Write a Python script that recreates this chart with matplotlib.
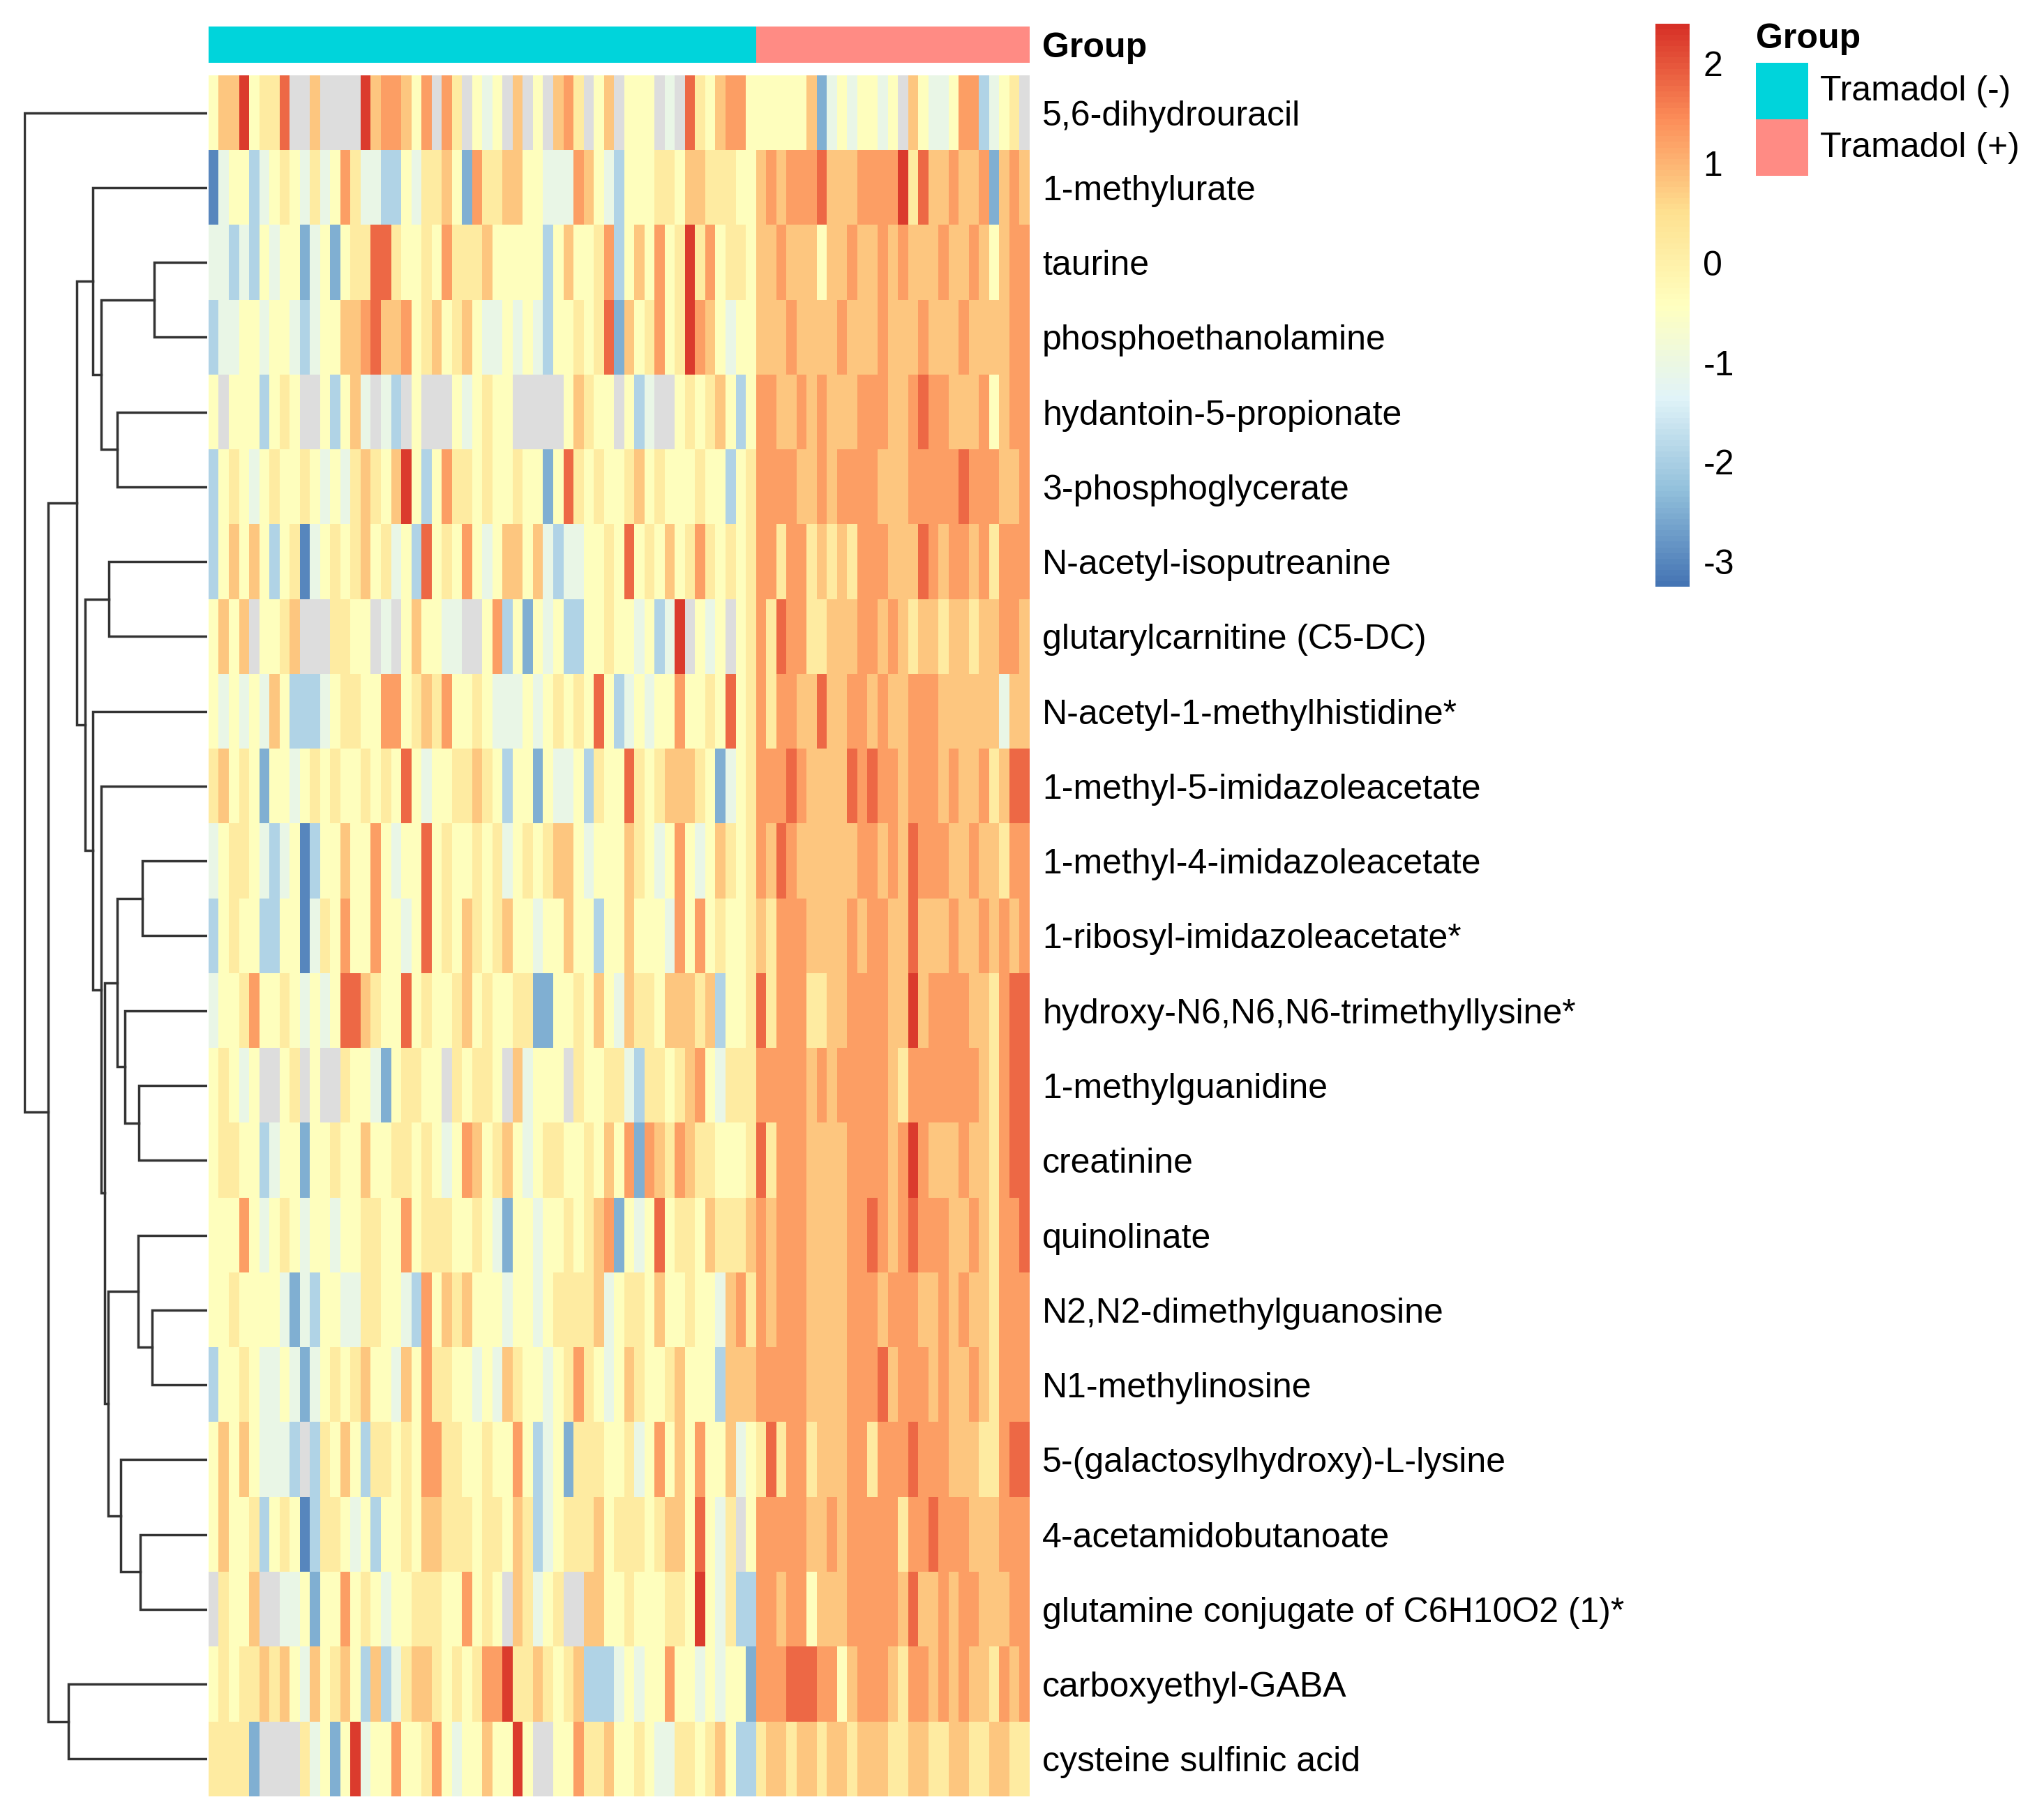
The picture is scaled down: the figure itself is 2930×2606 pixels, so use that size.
import numpy as np
import matplotlib
matplotlib.use("Agg")
import matplotlib.pyplot as plt
from matplotlib.colors import LinearSegmentedColormap, ListedColormap, Normalize
from matplotlib.patches import Rectangle

plt.rcParams['font.family'] = ['Liberation Sans', 'DejaVu Sans']
plt.rcParams['axes.unicode_minus'] = False

# row labels, top to bottom (order of the row dendrogram)
metabolites = [
    "5,6-dihydrouracil", "1-methylurate", "taurine", "phosphoethanolamine",
    "hydantoin-5-propionate", "3-phosphoglycerate", "N-acetyl-isoputreanine",
    "glutarylcarnitine (C5-DC)", "N-acetyl-1-methylhistidine*",
    "1-methyl-5-imidazoleacetate", "1-methyl-4-imidazoleacetate",
    "1-ribosyl-imidazoleacetate*", "hydroxy-N6,N6,N6-trimethyllysine*",
    "1-methylguanidine", "creatinine", "quinolinate", "N2,N2-dimethylguanosine",
    "N1-methylinosine", "5-(galactosylhydroxy)-L-lysine", "4-acetamidobutanoate",
    "glutamine conjugate of C6H10O2 (1)*", "carboxyethyl-GABA",
    "cysteine sulfinic acid",
]

# samples per group (columns)
n_minus = 54
n_plus = 27
group_names = ["Tramadol (-)", "Tramadol (+)"]
group_colors = ["#00D4DB", "#FF8B84"]

# z-score, one code per cell ('n' = missing, grey)
level_of = {'0': -3.0, '1': -2.5, '2': -1.9, '3': -1.1, '4': -0.4,
            '5': 0.15, '6': 0.8, '7': 1.25, '8': 1.8, '9': 2.25, 'n': np.nan}

cell_codes = [
    "46694558nn 6nnnn96776 47n75n434n 6n4n675n46 n444n3n854 6774  4444461343 4434n64334 772345n",
    "0344234543 5347533224 3556417556 6443337643 2444554665 5544  6767778666 7777958667 6671676",
    "3323243441 3414558854 4547555644 4442464457 2464745957 4554  6676664667 6676766676 6764677",
    "2334434432 3446678667 4564564334 3432445458 1645745976 4344  6667666676 6676667666 7666677",
    "4n4442454n n42463n32n 4nnn434544 nnnnn46544 n423nn4545 6424  7766767666 7776678776 6674677",
    "2454345445 4343565469 4247554544 5441485454 4564544454 4245  7777667677 7766677777 8777667",
    "2464642450 3454564534 2845474346 6463233445 4845464575 4545  7757756565 7776668767 7675777",
    "4646n4456n nn5544n3n4 64433nn472 4143422445 4434239n43 4n45  7587755666 7767656656 6566776",
    "4343436422 2345544774 5657445433 3434545484 2343447445 4845  7577668667 7676677766 6666366",
    "5645414434 5454454548 4344556542 4414334254 4854566654 1345  7778766668 7877677767 6675688",
    "3455432340 2446447434 4845445453 4545664344 4654347434 6545  7687666666 7767687776 6766577",
    "2454422440 3547447443 4845465456 4434464424 4644437474 5445  6577766667 6776686667 6676767",
    "3445744543 4348865448 4544564544 5511445464 3655466656 2445  8577755667 7776696777 7665788",
    "45434nn45n 4nn5443145 544n54554n 63444n5445 5325545674 3555  7777767677 7776577777 7765788",
    "4554423441 4454464455 4543476456 4345544546 4717657655 4445  8577766667 7776797666 7665788",
    "4447434543 4434455447 4555445431 4434454567 1434845546 5556  7677766667 7876787776 6765778",
    "4454444313 2443355443 2746564443 4434555563 4554644544 3675  7677766667 7767776676 7665777",
    "2445433431 3454564436 4755443436 5443457543 4654456444 2666  7777766667 7786777676 6765777",
    "464643332n 2546425545 4775544544 7423415554 4534746474 4634  5857756667 7577787776 6655788",
    "4644524540 2554342445 4665554554 6523455564 5554566484 35n4  7777766767 7777577877 7666777",
    "n5446nn334 1447454344 555447454n 65345nn664 4544455494 3522  7767746667 7777686676 7766677",
    "4545565643 6456426235 6654545779 5565456222 3434474434 3441  7778887746 7776577676 7665767",
    "55551nnnn5 3414934474 4574344644 94nn447556 4454335545 6422  5665665665 6665566556 6556655",
]

# row dendrogram: (left, right, height); leaves 0..22, new clusters from 23 on
merges = [
    (2, 3, 230), (16, 17, 240), (10, 11, 280), (19, 20, 290), (13, 14, 295),
    (15, 24, 300), (12, 27, 355), (18, 26, 375), (4, 5, 390), (25, 29, 390),
    (6, 7, 425), (28, 30, 430), (32, 34, 445), (23, 31, 460), (9, 35, 460),
    (1, 36, 495), (8, 37, 495), (33, 39, 528), (38, 40, 565), (21, 22, 600),
    (41, 42, 687), (0, 43, 792),
]

values = []
for codes in cell_codes:
    codes = codes.replace(" ", "")
    assert len(codes) == n_minus + n_plus, len(codes)
    values.append([level_of[c] for c in codes])
values = np.array(values, dtype=float)
group_idx = np.array([0] * n_minus + [1] * n_plus)

W, H = 2930, 2606
fig = plt.figure(figsize=(W / 100, H / 100), dpi=100)


def box(x0, y0, x1, y1):
    return [x0 / W, 1 - y1 / H, (x1 - x0) / W, (y1 - y0) / H]


cmap = LinearSegmentedColormap.from_list(
    "rdylbu", ["#4575B4", "#91BFDB", "#E0F3F8", "#FFFFBF", "#FEE090", "#FC8D59", "#D73027"], N=100)
cmap.set_bad("#DDDDDD")
norm = Normalize(vmin=-3.25, vmax=2.4)

# heatmap
ax = fig.add_axes(box(299, 108, 1476, 2575))
im = ax.imshow(np.ma.masked_invalid(values), cmap=cmap, norm=norm, aspect="auto",
               interpolation="nearest")
ax.set_xticks([])
ax.set_yticks(range(len(metabolites)))
ax.set_yticklabels(metabolites, fontsize=36)
ax.yaxis.tick_right()
ax.tick_params(axis="y", length=0, pad=13)
for s in ax.spines.values():
    s.set_visible(False)

# group annotation bar
ax_ann = fig.add_axes(box(299, 38, 1476, 90))
ax_ann.imshow(group_idx[None, :], cmap=ListedColormap(group_colors), aspect="auto",
              interpolation="nearest")
ax_ann.set_xticks([])
ax_ann.set_yticks([0])
ax_ann.set_yticklabels(["Group"], fontsize=36, fontweight="bold")
ax_ann.yaxis.tick_right()
ax_ann.tick_params(axis="y", length=0, pad=13)
for s in ax_ann.spines.values():
    s.set_visible(False)

# row dendrogram
ax_den = fig.add_axes(box(34, 108, 297, 2575))
n_leaf = len(metabolites)
pos = {i: (0.0, float(i)) for i in range(n_leaf)}
for k, (a, b, h) in enumerate(merges):
    xa, ya = pos[a]
    xb, yb = pos[b]
    ax_den.plot([xa, h, h, xb], [ya, ya, yb, yb], color="#333333", lw=2.5,
                solid_joinstyle="miter")
    pos[n_leaf + k] = (h, (ya + yb) / 2)
ax_den.set_xlim(max(m[2] for m in merges) + 2, 0)
ax_den.set_ylim(n_leaf - 0.5, -0.5)
ax_den.axis("off")

# colour key
cax = fig.add_axes(box(2373, 34, 2422, 841))
cb = fig.colorbar(im, cax=cax, ticks=[-3, -2, -1, 0, 1, 2])
cb.outline.set_visible(False)
cax.tick_params(length=0, labelsize=36, pad=14)

# group legend
fig.text(2517 / W, 1 - 56 / H, "Group", fontsize=36, fontweight="bold",
         ha="left", va="center")
box_top = 90
for name, col in zip(group_names, group_colors):
    fig.add_artist(Rectangle((2517 / W, 1 - (box_top + 81) / H), 75 / W, 81 / H,
                             transform=fig.transFigure, facecolor=col, edgecolor="none"))
    fig.text(2609 / W, 1 - (box_top + 41) / H, name, fontsize=36, ha="left", va="center")
    box_top += 81

fig.savefig("out.png", dpi=100, facecolor="white")
